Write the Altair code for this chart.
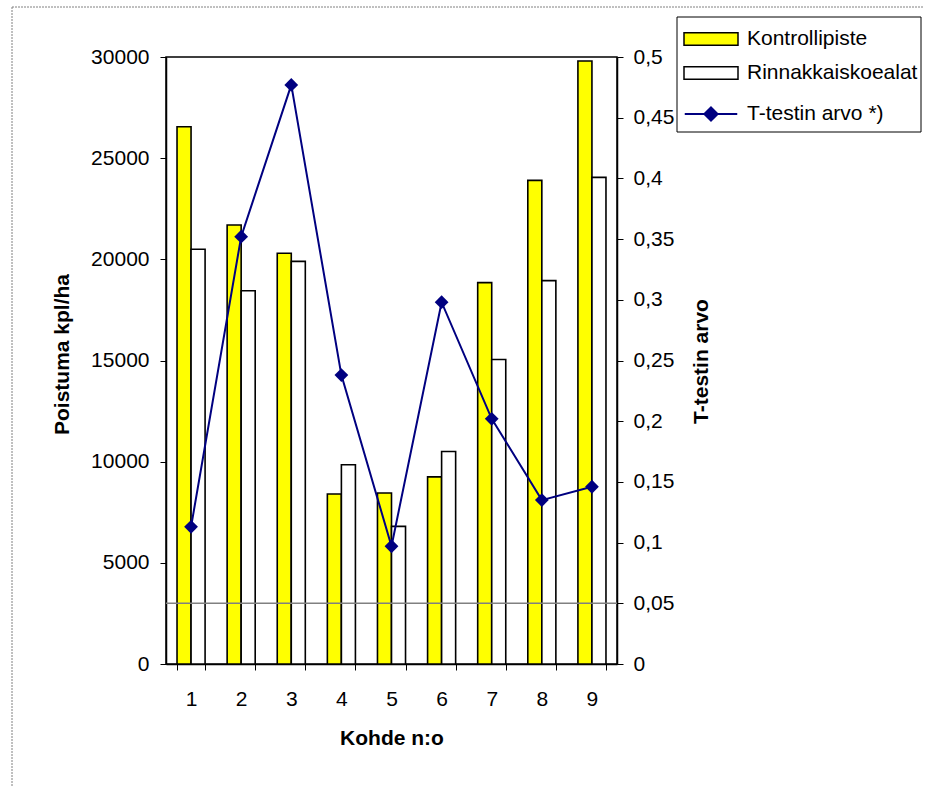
import altair as alt
import pandas as pd

# ---- data ----
kohteet = ["1", "2", "3", "4", "5", "6", "7", "8", "9"]
kontrollipiste = [26550, 21700, 20300, 8400, 8450, 9250, 18850, 23900, 29800]
rinnakkaiskoealat = [20500, 18450, 19900, 9850, 6800, 10500, 15050, 18950, 24050]
t_arvo = [0.113, 0.352, 0.477, 0.238, 0.097, 0.298, 0.202, 0.135, 0.146]
raja = [0.05]
sarjat = ["Kontrollipiste", "Rinnakkaiskoealat", "T-testin arvo *)"]
y_left_ticks = [0, 5000, 10000, 15000, 20000, 25000, 30000]
y_right_ticks = [0, 0.05, 0.1, 0.15, 0.2, 0.25, 0.3, 0.35, 0.4, 0.45, 0.5]

bar_df = pd.DataFrame({
    "kohde": kohteet * 2,
    "sarja": [sarjat[0]] * len(kohteet) + [sarjat[1]] * len(kohteet),
    "arvo": kontrollipiste + rinnakkaiskoealat,
})
t_df = pd.DataFrame({"kohde": kohteet, "t": t_arvo, "sarja": [sarjat[2]] * len(kohteet)})
raja_df = pd.DataFrame({"raja": raja})

FONT = "Liberation Sans"
NAVY = "#000080"
W, H = 451, 607
LEFT, TOP = 166, 57

RECT_PATH = "M-1.8,-0.42H1.8V0.42H-1.8Z"
LINE_PATH = "M-1.75,0H1.75M0,-0.44L0.44,0L0,0.44L-0.44,0Z"

common_legend = dict(
    title=None,
    orient="none",
    direction="vertical",
    padding=0,
    labelFont=FONT,
    labelFontSize=21,
    labelColor="black",
    labelOffset=20,
    labelLimit=400,
    symbolOffset=12,
    symbolSize=900,
    rowPadding=8,
    symbolOpacity=1,
)

legend_bars = alt.Legend(
    legendX=517, legendY=-34,
    symbolType=RECT_PATH, symbolStrokeColor="black", symbolStrokeWidth=1.5,
    **common_legend,
)
legend_line = alt.Legend(
    legendX=517, legendY=41,
    symbolType=LINE_PATH, symbolStrokeColor=NAVY, symbolFillColor=NAVY, symbolStrokeWidth=2,
    **common_legend,
)

bars = alt.Chart(bar_df).mark_bar(stroke="black", strokeWidth=1.6, opacity=1).encode(
    x=alt.X(
        "kohde:N",
        sort=kohteet,
        scale=alt.Scale(paddingInner=0.44, paddingOuter=0.22),
        axis=alt.Axis(
            title="Kohde n:o",
            labelAngle=0,
            tickBand="extent",
            tickSize=6,
            labelPadding=18,
            titleY=74,
            titleBaseline="middle",
        ),
    ),
    xOffset=alt.XOffset("sarja:N", sort=sarjat[:2]),
    y=alt.Y(
        "arvo:Q",
        scale=alt.Scale(domain=[0, 30000], nice=False),
        axis=alt.Axis(
            title="Poistuma kpl/ha",
            orient="left",
            values=y_left_ticks,
            format="d",
            tickSize=6,
            labelPadding=11,
            titleAngle=270,
            titleX=-104,
            titleY=297,
            titleAlign="center",
            titleBaseline="middle",
        ),
    ),
    color=alt.Color(
        "sarja:N",
        scale=alt.Scale(domain=sarjat[:2], range=["#FFFF00", "#FFFFFF"]),
        legend=legend_bars,
    ),
)

line = alt.Chart(t_df).mark_line(color=NAVY, strokeWidth=2).encode(
    x=alt.X("kohde:N", sort=kohteet),
    y=alt.Y(
        "t:Q",
        scale=alt.Scale(domain=[0, 0.5], nice=False),
        axis=alt.Axis(
            title="T-testin arvo",
            orient="right",
            values=y_right_ticks,
            labelExpr="replace(format(datum.value, '.2~f'), '.', ',')",
            tickSize=6,
            labelPadding=10,
            titleAngle=270,
            titleX=84,
            titleY=304,
            titleAlign="center",
            titleBaseline="middle",
        ),
    ),
)

points = alt.Chart(t_df).mark_point(shape="diamond", size=190, filled=True, opacity=1).encode(
    x=alt.X("kohde:N", sort=kohteet),
    y=alt.Y("t:Q", scale=alt.Scale(domain=[0, 0.5], nice=False), axis=None),
    color=alt.Color(
        "sarja:N",
        scale=alt.Scale(domain=[sarjat[2]], range=[NAVY]),
        legend=legend_line,
    ),
)

rule = alt.Chart(raja_df).mark_rule(color="#808080", strokeWidth=1.5).encode(
    y=alt.Y("raja:Q", scale=alt.Scale(domain=[0, 0.5], nice=False), axis=None)
)

legend_box = alt.Chart(raja_df).mark_rect(fill="white", fillOpacity=0, stroke="black", strokeWidth=1).encode(
    x=alt.value(677 - LEFT), x2=alt.value(921 - LEFT), y=alt.value(17 - TOP), y2=alt.value(132 - TOP)
)

border_v = alt.Chart(raja_df).mark_rule(color="#808080", strokeWidth=1, strokeDash=[2, 1]).encode(
    x=alt.value(12 - LEFT), y=alt.value(7 - TOP), y2=alt.value(787 - TOP)
)
border_h = alt.Chart(raja_df).mark_rule(color="#808080", strokeWidth=1, strokeDash=[2, 1]).encode(
    x=alt.value(12 - LEFT), x2=alt.value(924 - LEFT), y=alt.value(7 - TOP)
)

chart = alt.layer(bars, rule, line, points, legend_box, border_v, border_h).resolve_scale(
    y="independent", color="independent"
).properties(
    width=W,
    height=H,
    autosize=alt.AutoSizeParams(type="none"),
    padding={"left": LEFT, "top": TOP, "right": 926 - LEFT - W, "bottom": 787 - TOP - H},
    background="white",
).configure_view(
    stroke="black", strokeWidth=1.5
).configure_axis(
    grid=False,
    domainColor="black",
    domainWidth=1.5,
    tickColor="black",
    tickWidth=1,
    labelFont=FONT,
    labelFontSize=21,
    labelColor="black",
    titleFont=FONT,
    titleFontSize=21,
    titleFontWeight="bold",
    titleColor="black",
)

chart.save("out.html", embed_options={"renderer": "svg", "actions": False})
